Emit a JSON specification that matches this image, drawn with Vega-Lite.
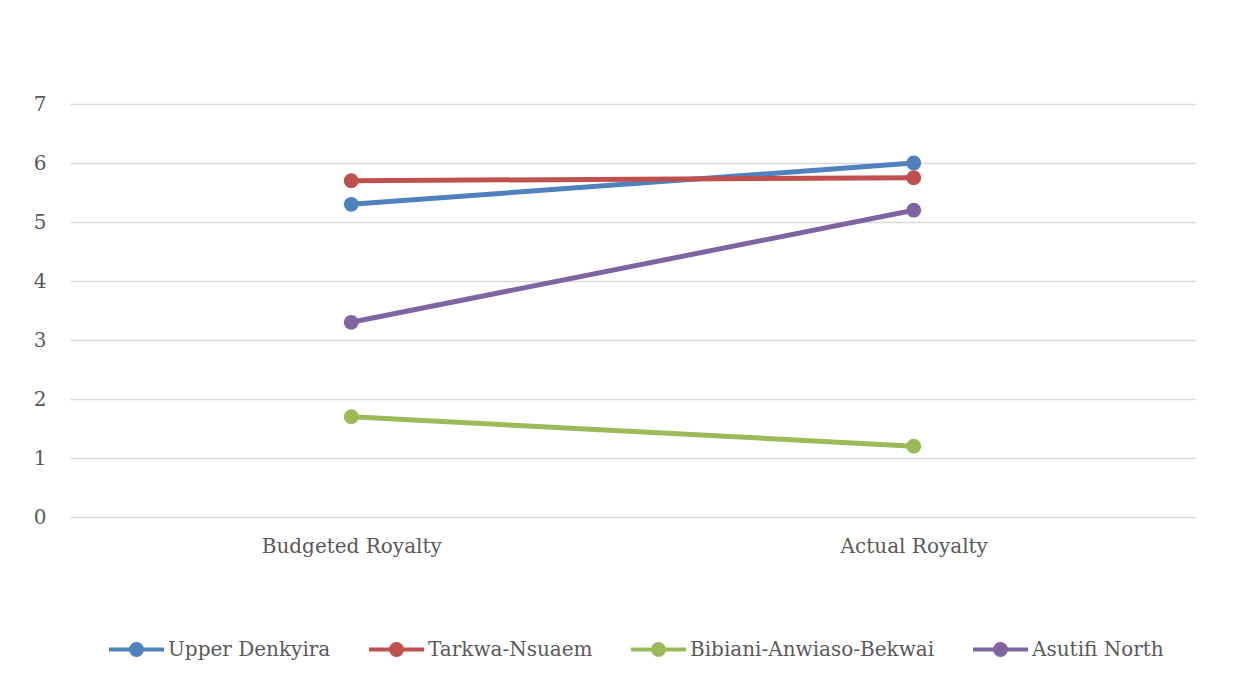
{
  "$schema": "https://vega.github.io/schema/vega-lite/v6.json",
  "autosize": "none",
  "width": 1125,
  "height": 413,
  "padding": {"left": 70, "top": 104, "right": 57, "bottom": 164},
  "background": "white",
  "config": {
    "view": {"stroke": null},
    "font": "DejaVu Serif",
    "axis": {"labelColor": "#595959", "labelFont": "DejaVu Serif", "labelFontSize": 20, "labelLimit": 400, "ticks": false, "domain": false, "title": null},
    "legend": {"labelColor": "#595959", "labelFont": "DejaVu Serif", "labelFontSize": 20, "labelLimit": 400}
  },
  "data": {
    "values": [
      {"district": "Upper Denkyira", "type": "Budgeted Royalty", "value": 5.3},
      {"district": "Upper Denkyira", "type": "Actual Royalty", "value": 6.0},
      {"district": "Tarkwa-Nsuaem", "type": "Budgeted Royalty", "value": 5.7},
      {"district": "Tarkwa-Nsuaem", "type": "Actual Royalty", "value": 5.75},
      {"district": "Bibiani-Anwiaso-Bekwai", "type": "Budgeted Royalty", "value": 1.7},
      {"district": "Bibiani-Anwiaso-Bekwai", "type": "Actual Royalty", "value": 1.2},
      {"district": "Asutifi North", "type": "Budgeted Royalty", "value": 3.3},
      {"district": "Asutifi North", "type": "Actual Royalty", "value": 5.2}
    ]
  },
  "mark": {"type": "line", "strokeWidth": 5, "point": {"filled": true, "size": 220, "opacity": 1}},
  "encoding": {
    "x": {
      "field": "type",
      "type": "nominal",
      "sort": ["Budgeted Royalty", "Actual Royalty"],
      "scale": {"paddingInner": 0, "paddingOuter": 0},
      "axis": {"labelAngle": 0, "labelPadding": 19, "grid": false}
    },
    "y": {
      "field": "value",
      "type": "quantitative",
      "scale": {"domain": [0, 7], "nice": false},
      "axis": {"values": [0, 1, 2, 3, 4, 5, 6, 7], "grid": true, "gridColor": "#d9d9d9", "gridWidth": 1.5, "labelPadding": 24}
    },
    "color": {
      "field": "district",
      "type": "nominal",
      "sort": ["Upper Denkyira", "Tarkwa-Nsuaem", "Bibiani-Anwiaso-Bekwai", "Asutifi North"],
      "scale": {"range": ["#4F81BD", "#C0504D", "#9BBB59", "#8064A2"]},
      "legend": {
        "title": null,
        "orient": "none",
        "direction": "horizontal",
        "legendX": 37,
        "legendY": 516,
        "symbolType": "M-1,0H1M0.2,0A0.2,0.2,0,1,1,-0.2,0A0.2,0.2,0,1,1,0.2,0Z",
        "symbolSize": 3025,
        "symbolStrokeWidth": 4,
        "columnPadding": 30,
        "labelOffset": 2,
        "encode": {"symbols": {"update": {"fill": {"scale": "color", "field": "value"}, "fillOpacity": {"value": 1}}}}
      }
    }
  }
}
